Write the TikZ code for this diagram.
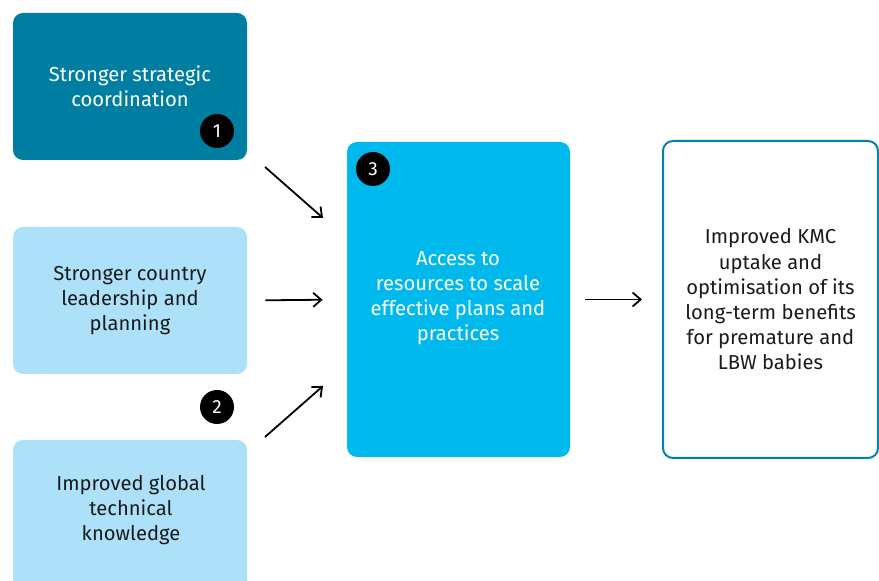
\documentclass[tikz,border=0pt]{standalone}
\usepackage{fontspec}
\setmainfont{Fira Sans}
\usetikzlibrary{arrows.meta}
\definecolor{darkteal}{HTML}{007EA1}
\definecolor{paleblue}{HTML}{ADE1FA}
\definecolor{brightcyan}{HTML}{00B9EC}
\definecolor{edgeteal}{HTML}{0083A9}
\definecolor{inkgrey}{HTML}{1A1A1A}
\begin{document}
\begin{tikzpicture}[x=0.5pt,y=-0.5pt,
    box/.style={rounded corners=5pt,inner sep=0pt,align=center,
      font=\fontsize{10.1}{12.6}\selectfont,text=inkgrey},
    badge/.style={circle,fill=black,text=white,inner sep=0pt,
      minimum size=17pt,font=\fontsize{9.5}{10}\selectfont},
    flow/.style={line width=0.9pt,-{Straight Barb[length=4pt,width=7pt]}}]
    \clip (0,0) rectangle (879,581);
    \useasboundingbox (0,0) rectangle (879,581);
    % left column
    \node (strat) [box,fill=darkteal,text=white,minimum width=117pt,minimum height=73.5pt]
      at (130,86.5) {Stronger strategic\\coordination};
    \node (country) [box,fill=paleblue,minimum width=117pt,minimum height=73.5pt]
      at (130,300.5) {Stronger country\\leadership and\\planning};
    \node (global) [box,fill=paleblue,minimum width=117pt,minimum height=80pt]
      at (130,520) {};
    \node at (131,510) [box] {Improved global\\technical\\knowledge};
    % middle and right
    \node (access) [box,fill=brightcyan,text=white,minimum width=111.5pt,minimum height=157.5pt]
      at (458.5,299.5) {};
    \node at (458,298) [box,text=white] {Access to\\resources to scale\\effective plans and\\practices};
    \node (kmc) [box,draw=edgeteal,line width=1pt,fill=white,minimum width=107.5pt,minimum height=158.5pt]
      at (770.5,299.5) {Improved KMC\\uptake and\\optimisation of its\\long-term benefits\\for premature and\\LBW babies};
    % badges
    \node (one) [badge] at (217,131) {1};
    \node (two) [badge] at (217,407) {2};
    \node (three) [badge] at (373,169) {3};
    % arrows
    \coordinate (s1) at (265,167);
    \coordinate (e1) at (323,218);
    \coordinate (s3) at (265,437);
    \coordinate (e3) at (323,386);
    \draw[flow] (s1) -- (e1);
    \draw[flow,shorten <=9pt,shorten >=12pt] (country.east) -- (access.west);
    \draw[flow] (s3) -- (e3);
    \draw[flow,shorten <=7.5pt,shorten >=10pt] (access.east) -- (kmc.west);
\end{tikzpicture}
\end{document}
